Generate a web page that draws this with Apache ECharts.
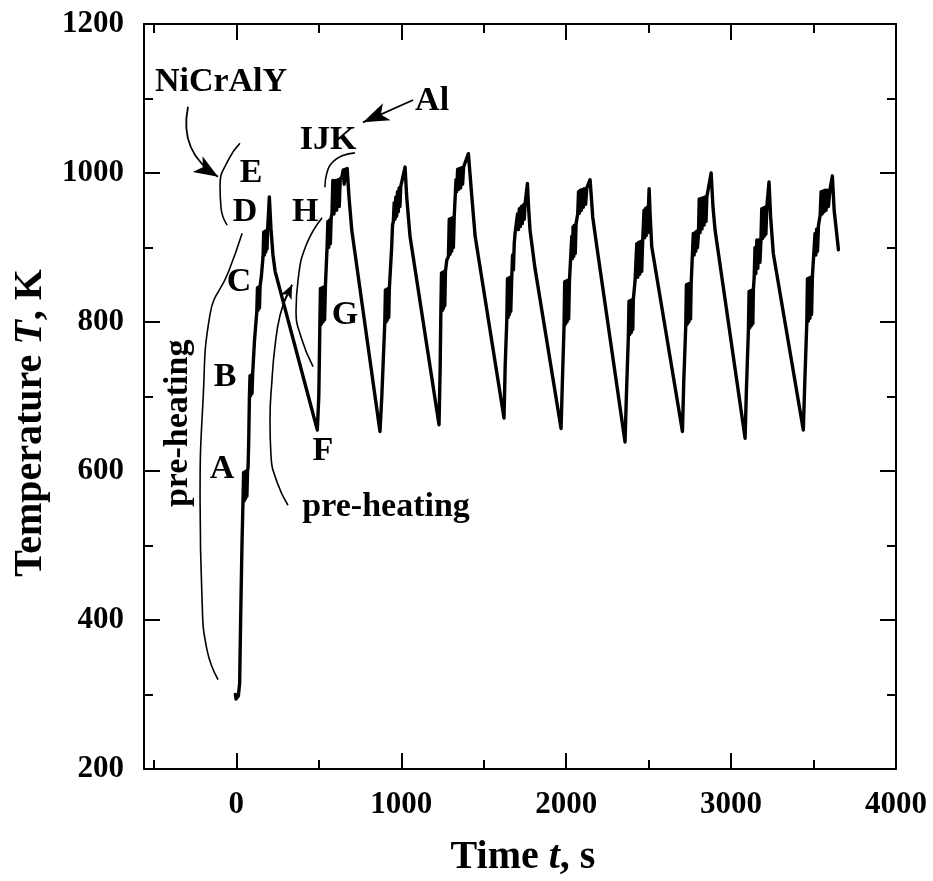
<!DOCTYPE html>
<html>
<head>
<meta charset="utf-8">
<script src="https://cdn.jsdelivr.net/npm/echarts@6.0.0/dist/echarts.min.js"></script>
<style>
html,body{margin:0;padding:0;background:#fff;}
#chart{width:933px;height:881px;}
</style>
</head>
<body>
<div id="chart"></div>
<script>
// ---- axis ticks ----
const majorTimeTicks = [0, 1000, 2000, 3000, 4000];
const minorTimeTicks = [-500, 500, 1500, 2500, 3500];
const timeRange = [-560, 4000];
const tempRange = [200, 1200];
const tempStep = 200;

// ---- temperature trace [time s, temperature K] ----
// pre-heating + NiCrAlY layer (A..E)
const cycle0 = [[-6,300],[-2,294],[4,292],[12,298],[20,315],[26,400],[34,500],[40,556],[44,598],[48,560],[52,599],[56,563],[60,600],[64,566],[68,601],[71,604],[75,640],[79,698],[83,728],[87,701],[91,729],[95,704],[99,731],[110,775],[124,814],[128,846],[132,816],[136,847],[140,819],[144,848],[152,862],[162,888],[166,921],[170,890],[174,922],[178,894],[182,923],[186,898],[190,926],[196,950],[200,968],[210,925],[222,890],[235,868]];
// pre-heating + Al layers (F..K)
const cycle1 = [[491,655],[500,700],[506,790],[510,845],[515,797],[520,846],[525,800],[530,847],[535,803],[540,848],[545,850],[550,900],[555,935],[560,900],[565,937],[570,905],[575,940],[580,946],[585,990],[592,945],[600,990],[608,950],[616,991],[624,955],[630,992],[640,995],[648,1004],[654,985],[660,1005],[666,990],[672,1006],[675,1008],[683,968],[700,923]];
const cycle2 = [[871,653],[882,700],[900,798],[904,843],[908,800],[912,844],[916,803],[920,845],[924,806],[928,846],[932,848],[942,901],[947,930],[952,935],[957,960],[962,938],[967,968],[972,942],[977,975],[982,948],[987,980],[992,955],[997,982],[1003,983],[1023,1008],[1033,968],[1053,915]];
const cycle3 = [[1229,662],[1236,740],[1240,812],[1244,866],[1248,815],[1252,867],[1256,818],[1260,868],[1264,822],[1268,868],[1272,868],[1276,883],[1286,888],[1291,938],[1296,891],[1301,939],[1306,895],[1311,940],[1316,900],[1321,941],[1332,991],[1336,975],[1342,1005],[1348,978],[1354,1006],[1360,980],[1366,1007],[1372,985],[1378,1008],[1387,1008],[1407,1026],[1428,968],[1448,915]];
const cycle4 = [[1623,671],[1630,740],[1640,803],[1644,858],[1648,806],[1652,859],[1656,810],[1660,860],[1664,814],[1670,860],[1675,890],[1680,870],[1685,905],[1690,919],[1700,921],[1705,945],[1710,924],[1716,952],[1722,928],[1728,955],[1734,932],[1740,957],[1746,938],[1751,959],[1765,986],[1773,950],[1781,923],[1811,872]];
const cycle5 = [[1969,657],[1977,720],[1987,794],[1991,854],[1995,797],[2000,855],[2005,800],[2010,856],[2015,804],[2020,856],[2023,856],[2034,915],[2038,885],[2042,928],[2046,888],[2050,930],[2055,892],[2060,932],[2070,945],[2075,975],[2080,946],[2086,977],[2092,950],[2098,978],[2104,954],[2110,979],[2118,958],[2125,980],[2145,991],[2161,941],[2186,901]];
const cycle6 = [[2357,639],[2365,700],[2377,780],[2381,828],[2385,783],[2390,829],[2395,786],[2400,830],[2404,790],[2407,830],[2418,856],[2422,858],[2428,905],[2434,860],[2440,907],[2446,864],[2452,908],[2458,868],[2464,910],[2468,910],[2472,950],[2476,913],[2480,952],[2485,916],[2490,954],[2495,920],[2499,955],[2503,979],[2510,940],[2519,901]];
const cycle7 = [[2705,653],[2713,720],[2725,794],[2729,850],[2734,797],[2739,851],[2744,800],[2749,852],[2754,804],[2758,852],[2762,852],[2771,919],[2776,890],[2781,920],[2786,895],[2791,922],[2796,900],[2802,918],[2807,965],[2812,920],[2818,966],[2824,925],[2830,967],[2836,930],[2842,968],[2848,935],[2853,968],[2879,1000],[2890,955],[2903,923]];
const cycle8 = [[3085,644],[3093,710],[3105,789],[3109,841],[3113,792],[3118,842],[3123,795],[3128,843],[3132,798],[3135,843],[3140,860],[3145,900],[3150,865],[3156,910],[3162,872],[3168,910],[3175,880],[3181,910],[3186,952],[3191,912],[3196,953],[3201,915],[3206,954],[3211,918],[3217,955],[3230,988],[3240,940],[3256,892]];
const cycle9 = [[3438,655],[3447,720],[3459,798],[3463,858],[3468,801],[3473,859],[3478,805],[3483,860],[3488,810],[3493,861],[3499,861],[3509,919],[3514,890],[3519,925],[3524,895],[3530,930],[3540,943],[3546,975],[3552,945],[3558,976],[3564,948],[3570,977],[3576,950],[3582,977],[3590,955],[3600,978],[3614,996],[3625,950],[3651,897]];

// ---- annotation guides (data units) ----
const preheatBracketLeft = [[35,919],[-50,866],[-160,810],[-202,695],[-220,561],[-208,427],[-178,360],[-111,320]];
const deBracket = [[22,1040],[-50,1017],[-99,984],[-93,953],[-56,930]];
const hBracket = [[520,940],[423,903],[374,856],[362,815],[392,780],[465,740]];
const ijkArc = [[537,981],[550,1001],[586,1015],[641,1023],[719,1027]];
const preheatCurveRight = [[313,554],[247,585],[210,621],[204,668],[216,722],[235,769],[265,809],[307,836]];
const niCrAlYArrow = [[-293,1089],[-111,995]];
const alArrow = [[1072,1098],[768,1068]];
const preheatArrowTip = [[289,827],[338,850]];

// ---- annotation labels ----
const labelNames = ['NiCrAlY','E','D','C','B','A','F','G','H','IJK','Al','pre-heating','pre-heating'];
const labelTimes = [-93, 89, 53, 16, -69, -87, 525, 659, 417, 556, 1187, 908, -350];
const labelTemps = [1122, 1000, 948, 854, 726, 603, 627, 809, 948, 1044, 1097, 552, 664];
const labelRotations = [0,0,0,0,0,0,0,0,0,0,0,0,90];

const FONT = 'Liberation Serif';
const trace = [].concat(cycle0, cycle1, cycle2, cycle3, cycle4, cycle5, cycle6, cycle7, cycle8, cycle9);

function guide(data) {
  return {type:'line', data:data, smooth:0.5, symbol:'none', silent:true, z:2,
          lineStyle:{color:'#000', width:1.6}};
}
function arrow(coords, curveness, size) {
  return {type:'lines', coordinateSystem:'cartesian2d', silent:true, z:4,
          symbol:['none','arrow'], symbolSize:[1, size],
          lineStyle:{color:'#000', width:1.8, curveness:curveness, opacity:1},
          itemStyle:{color:'#000'},
          data:[{coords:coords}]};
}

const axisLineStyle = {color:'#000', width:2};
const labelStyle = {fontSize:31, fontWeight:'bold', fontFamily:FONT, color:'#000',
                    formatter:function (v) { return String(v); }};

function xAx(pos, ticks, len, withLine, withLabels) {
  return {type:'value', min:timeRange[0], max:timeRange[1], position:pos,
    axisLine:{show:withLine, onZero:false, lineStyle:axisLineStyle},
    axisTick:{show:true, inside:true, length:len, customValues:ticks, lineStyle:axisLineStyle},
    axisLabel:withLabels ? Object.assign({show:true, margin:20, customValues:ticks}, labelStyle) : {show:false},
    splitLine:{show:false}};
}
function yAx(pos, withLabels) {
  return {type:'value', min:tempRange[0], max:tempRange[1], interval:tempStep, position:pos,
    axisLine:{show:true, onZero:false, lineStyle:axisLineStyle},
    axisTick:{show:true, inside:true, length:16, lineStyle:axisLineStyle},
    minorTick:{show:true, splitNumber:2, length:9, lineStyle:axisLineStyle},
    axisLabel:withLabels ? Object.assign({show:true, margin:20}, labelStyle) : {show:false},
    splitLine:{show:false}, minorSplitLine:{show:false}};
}

const labelData = labelNames.map((n, i) => ({
  name:n, value:[labelTimes[i], labelTemps[i]],
  label:{rotate:labelRotations[i]}
}));

const option = {
  animation:false,
  backgroundColor:'#fff',
  grid:{left:144, right:37, top:24, bottom:112},
  xAxis:[
    xAx('bottom', majorTimeTicks, 16, true, true),
    xAx('bottom', minorTimeTicks, 9, false, false),
    xAx('top', majorTimeTicks, 16, true, false),
    xAx('top', minorTimeTicks, 9, false, false)
  ],
  yAxis:[yAx('left', true), yAx('right', false)],
  graphic:[
    {type:'text', x:523, y:858, style:{
      text:'Time {i|t}, s', fontSize:40, fontWeight:'bold', fontFamily:FONT, fill:'#000',
      align:'center', verticalAlign:'middle',
      rich:{i:{fontSize:40, fontWeight:'bold', fontStyle:'italic', fontFamily:FONT, fill:'#000'}}}},
    {type:'text', x:31, y:423, rotation:Math.PI/2, style:{
      text:'Temperature {i|T}, K', fontSize:40, fontWeight:'bold', fontFamily:FONT, fill:'#000',
      align:'center', verticalAlign:'middle',
      rich:{i:{fontSize:40, fontWeight:'bold', fontStyle:'italic', fontFamily:FONT, fill:'#000'}}}}
  ],
  series:[
    {type:'line', name:'T', data:trace, symbol:'none', z:5, silent:true,
     lineStyle:{color:'#000', width:3.4, join:'round', cap:'round'}},
    guide(preheatBracketLeft),
    guide(deBracket),
    guide(hBracket),
    guide(ijkArc),
    guide(preheatCurveRight),
    arrow(niCrAlYArrow, -0.35, [14, 24]),
    arrow(alArrow, 0, [14, 26]),
    arrow(preheatArrowTip, 0, [9, 14]),
    {type:'scatter', data:labelData, symbolSize:0, silent:true, z:6,
     itemStyle:{opacity:1, color:'#000'},
     label:{show:true, position:'inside', formatter:'{b}', fontSize:34, fontWeight:'bold',
            fontFamily:FONT, color:'#000', opacity:1, textBorderWidth:0}}
  ]
};

const chart = echarts.init(document.getElementById('chart'), null, {renderer:'canvas'});
chart.setOption(option);
</script>
</body>
</html>
